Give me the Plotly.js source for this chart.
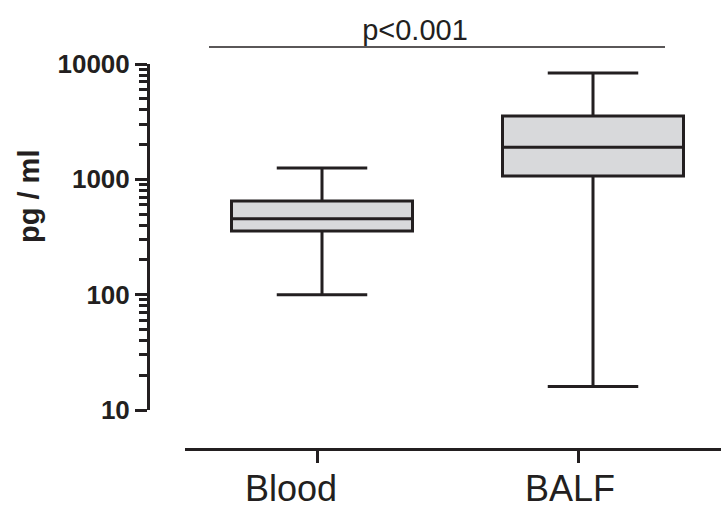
<!DOCTYPE html>
<html>
<head>
<meta charset="utf-8">
<script src="https://cdn.plot.ly/plotly-3.0.1.min.js"></script>
<style>html,body{margin:0;padding:0;background:#fff;}#chart{width:721px;height:513px;}</style>
</head>
<body>
<div id="chart"></div>
<script>
// Data (pg / ml)
const groups = ['Blood', 'BALF'];
const lowerWhisker = [100, 16];
const q1Values = [356, 1070];
const medianValues = [455, 1900];
const q3Values = [650, 3540];
const upperWhisker = [1255, 8350];
const yTickVals = [10, 100, 1000, 10000];
const yTickText = ['10', '100', '1000', '10000'];
const pText = 'p<0.001';
const yTitle = 'pg / ml';

const ink = '#231f20';
const W = 721, H = 513;
const mL = 150, mR = 0, mT = 64, mB = 64;
const plotW = W - mL - mR, plotH = H - mT - mB;
const fam = 'Liberation Sans, Arial, sans-serif';

// pixel helpers -> axis ranges
function rangeFor(px, startPx, endPx) {
  const unit = px[1] - px[0];
  return [(startPx - px[0]) / unit, (endPx - px[0]) / unit];
}
const boxPx = [322, 593];
const boxUnit = boxPx[1] - boxPx[0];
const xRange = rangeFor(boxPx, mL, W - mR);
const xAxisStart = 185;
const x2Range = rangeFor([317, 578], xAxisStart, W - mR);   // axis ticks
const x3Range = rangeFor([291, 570], xAxisStart, W - mR);   // tick labels
const x2Domain = [(xAxisStart - mL) / plotW, 1];
const yBottomPx = 410;
const yDomainStart = (H - mB - yBottomPx) / plotH;

const trace = {
  type: 'box',
  x: groups,
  q1: q1Values,
  median: medianValues,
  q3: q3Values,
  lowerfence: lowerWhisker,
  upperfence: upperWhisker,
  xaxis: 'x',
  yaxis: 'y',
  width: 181 / boxUnit,
  whiskerwidth: 0.5,
  fillcolor: '#d8d9db',
  line: {color: ink, width: 3},
  boxpoints: false,
  hoverinfo: 'skip',
  showlegend: false
};

// carriers for the category axes (no visible marks)
const tickCarrier = {
  type: 'scatter', mode: 'markers', x: groups, y: [null, null],
  xaxis: 'x2', yaxis: 'y', hoverinfo: 'skip', showlegend: false
};
const labelCarrier = {
  type: 'scatter', mode: 'markers', x: groups, y: [null, null],
  xaxis: 'x3', yaxis: 'y', hoverinfo: 'skip', showlegend: false
};

const lineX0 = (209 - boxPx[0]) / boxUnit;
const lineX1 = (665 - boxPx[0]) / boxUnit;

const layout = {
  width: W, height: H,
  margin: {l: mL, r: mR, t: mT, b: mB, pad: 0},
  paper_bgcolor: '#ffffff',
  plot_bgcolor: 'rgba(0,0,0,0)',
  showlegend: false,
  font: {family: fam, color: ink},
  title: {
    text: pText,
    font: {size: 29, color: ink, family: fam},
    x: 415 / W, xanchor: 'center', xref: 'container',
    y: 1 - 30 / H, yanchor: 'middle', yref: 'container'
  },
  xaxis: {
    type: 'category',
    categoryorder: 'array', categoryarray: groups,
    range: xRange, domain: [0, 1],
    visible: false, fixedrange: true
  },
  xaxis2: {
    type: 'category',
    categoryorder: 'array', categoryarray: groups,
    range: x2Range, domain: x2Domain,
    anchor: 'free', position: 0,
    showline: true, linecolor: ink, linewidth: 3,
    ticks: 'outside', ticklen: 12, tickwidth: 3, tickcolor: ink,
    showticklabels: false,
    showgrid: false, zeroline: false, fixedrange: true
  },
  xaxis3: {
    type: 'category',
    categoryorder: 'array', categoryarray: groups,
    range: x3Range, domain: x2Domain,
    anchor: 'free', position: 4 / plotH,
    showline: false,
    ticks: 'outside', ticklen: 12, tickwidth: 1, tickcolor: 'rgba(0,0,0,0)',
    tickfont: {size: 36, color: ink, family: fam},
    showgrid: false, zeroline: false, fixedrange: true
  },
  yaxis: {
    type: 'log',
    range: [1, 4],
    domain: [yDomainStart, 1],
    anchor: 'x',
    tickmode: 'array', tickvals: yTickVals, ticktext: yTickText,
    showline: true, linecolor: ink, linewidth: 3,
    ticks: 'outside', ticklen: 12, tickwidth: 3, tickcolor: ink,
    tickfont: {size: 26, color: ink, family: fam, weight: 'bold'},
    minor: {ticks: 'outside', ticklen: 8, tickwidth: 3, tickcolor: ink, dtick: 'D1', showgrid: false},
    showgrid: false, zeroline: false, fixedrange: true
  },
  shapes: [{
    type: 'line', xref: 'x', yref: 'paper',
    x0: lineX0, x1: lineX1,
    y0: (H - mB - 47) / plotH, y1: (H - mB - 47) / plotH,
    line: {color: ink, width: 1.5}
  }],
  annotations: [{
    text: '<b>' + yTitle + '</b>',
    xref: 'paper', yref: 'paper',
    x: (29 - mL) / plotW, y: (H - mB - 197) / plotH,
    xanchor: 'center', yanchor: 'middle',
    textangle: -90, showarrow: false,
    font: {size: 29, color: ink, family: fam}
  }]
};

Plotly.newPlot('chart', [trace, tickCarrier, labelCarrier], layout, {displayModeBar: false, staticPlot: true});
</script>
</body>
</html>
